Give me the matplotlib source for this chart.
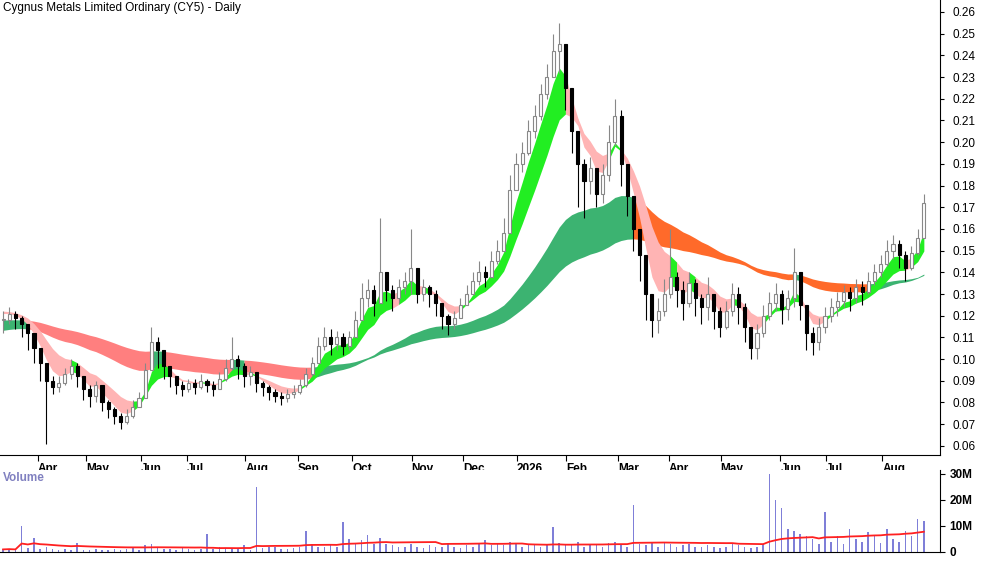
import numpy as np
import matplotlib
matplotlib.use("Agg")
import matplotlib.pyplot as plt

close = [0.118,0.121,0.119,0.116,0.112,0.105,0.098,0.090,0.087,0.089,0.093,0.097,0.092,0.086,0.083,0.088,0.080,0.077,0.074,0.071,
0.074,0.078,0.082,0.095,0.108,0.104,0.097,0.092,0.088,0.086,0.089,0.087,0.090,0.088,0.086,0.091,0.096,0.100,0.097,0.092,
0.094,0.089,0.087,0.085,0.083,0.082,0.084,0.085,0.088,0.093,0.098,0.106,0.110,0.107,0.110,0.106,0.110,0.118,0.128,0.132,
0.126,0.140,0.132,0.128,0.133,0.136,0.142,0.130,0.133,0.130,0.126,0.120,0.116,0.119,0.125,0.130,0.136,0.140,0.138,0.145,
0.150,0.158,0.178,0.190,0.195,0.205,0.212,0.222,0.230,0.242,0.245,0.225,0.205,0.190,0.182,0.188,0.176,0.185,0.200,0.212,
0.190,0.175,0.160,0.148,0.130,0.118,0.122,0.130,0.138,0.132,0.126,0.135,0.128,0.124,0.130,0.122,0.115,0.122,0.130,0.124,
0.115,0.105,0.112,0.120,0.126,0.130,0.123,0.128,0.140,0.125,0.112,0.108,0.115,0.120,0.124,0.127,0.131,0.128,0.133,0.131,
0.136,0.140,0.144,0.150,0.153,0.148,0.142,0.149,0.156,0.172]
high = [0.122,0.124,0.122,0.120,0.116,0.112,0.104,0.095,0.092,0.092,0.096,0.100,0.098,0.092,0.088,0.090,0.088,0.081,0.078,0.075,
0.077,0.081,0.085,0.098,0.115,0.110,0.104,0.097,0.092,0.090,0.091,0.091,0.093,0.091,0.090,0.094,0.100,0.110,0.102,0.098,
0.097,0.094,0.090,0.088,0.086,0.085,0.086,0.088,0.091,0.096,0.101,0.110,0.115,0.114,0.113,0.112,0.113,0.122,0.135,0.137,
0.134,0.165,0.140,0.134,0.137,0.140,0.160,0.140,0.137,0.134,0.132,0.126,0.121,0.122,0.128,0.134,0.140,0.145,0.143,0.150,
0.155,0.165,0.185,0.195,0.200,0.210,0.217,0.227,0.236,0.250,0.255,0.240,0.222,0.200,0.192,0.193,0.186,0.190,0.208,0.220,
0.215,0.185,0.172,0.156,0.148,0.130,0.128,0.137,0.160,0.140,0.136,0.140,0.137,0.130,0.138,0.130,0.124,0.127,0.135,0.133,
0.126,0.112,0.116,0.125,0.131,0.135,0.132,0.132,0.151,0.140,0.122,0.115,0.119,0.124,0.128,0.131,0.134,0.133,0.137,0.136,
0.140,0.144,0.148,0.155,0.157,0.155,0.150,0.152,0.160,0.176]
low = [0.112,0.116,0.114,0.110,0.104,0.098,0.090,0.061,0.084,0.085,0.088,0.091,0.087,0.081,0.078,0.080,0.076,0.073,0.070,0.068,
0.070,0.073,0.078,0.082,0.095,0.096,0.091,0.087,0.084,0.083,0.085,0.084,0.086,0.085,0.083,0.086,0.090,0.095,0.091,0.087,
0.088,0.085,0.083,0.081,0.080,0.079,0.080,0.082,0.084,0.087,0.092,0.098,0.104,0.102,0.104,0.102,0.104,0.110,0.118,0.124,
0.120,0.126,0.127,0.122,0.126,0.130,0.130,0.126,0.127,0.124,0.120,0.114,0.111,0.114,0.119,0.125,0.130,0.134,0.133,0.138,
0.144,0.150,0.158,0.178,0.186,0.194,0.202,0.210,0.220,0.230,0.232,0.215,0.195,0.170,0.165,0.176,0.170,0.172,0.182,0.198,
0.180,0.166,0.150,0.136,0.118,0.110,0.112,0.120,0.128,0.124,0.118,0.124,0.120,0.116,0.118,0.114,0.110,0.114,0.120,0.116,
0.108,0.100,0.100,0.110,0.118,0.122,0.116,0.118,0.124,0.118,0.104,0.102,0.104,0.112,0.117,0.120,0.124,0.122,0.126,0.125,
0.130,0.134,0.138,0.143,0.146,0.142,0.136,0.141,0.148,0.160]
volume = [1.0,1.2,0.8,10.0,1.5,5.5,1.0,2.0,1.2,0.8,1.0,0.7,3.5,0.8,0.9,1.0,0.8,0.7,1.2,0.8,
1.0,1.5,0.9,2.5,3.0,2.0,1.2,1.0,0.8,1.5,1.0,0.9,1.2,7.0,1.0,2.0,1.5,1.2,1.0,2.5,
0.8,25.0,1.5,2.0,1.8,1.0,1.2,1.5,2.0,8.0,3.0,2.0,1.8,2.5,2.0,11.5,5.0,3.0,4.5,6.5,
3.0,5.5,3.0,2.5,2.0,1.8,3.0,2.0,1.5,2.5,2.0,1.8,3.5,2.0,1.5,2.5,2.0,3.0,4.5,2.5,
3.0,2.5,4.0,3.5,2.0,3.0,2.5,2.0,2.8,9.5,3.5,2.5,3.0,4.0,2.0,3.0,2.5,2.0,3.5,4.0,
2.5,2.0,18.0,3.0,2.5,3.5,2.0,4.0,3.0,2.0,2.5,3.0,2.0,1.8,2.5,2.0,1.5,2.0,3.0,2.5,
2.0,1.5,2.0,3.0,30.0,20.0,17.0,9.0,8.0,7.0,6.0,5.0,3.0,15.5,4.0,6.0,3.0,9.0,5.0,4.0,
7.5,6.0,3.5,9.0,5.0,4.0,8.0,6.0,12.5,12.0]
month_labels = ["Apr","May","Jun","Jul","Aug","Sep","Oct","Nov","Dec","2026","Feb","Mar","Apr","May","Jun","Jul","Aug"]
month_pos = [5.6,13.4,22.3,29.8,39.2,47.7,56.5,66.1,74.5,83.1,91.1,99.5,107.7,116.1,125.8,133.1,142.3]

c = np.array(close); h = np.array(high); l = np.array(low)
o = np.r_[c[0], c[:-1]]
x = np.arange(len(c))

def ema(a, n, seed):
    k = 2/(n+1); out = np.empty_like(a); prev = seed
    for i in range(len(a)):
        prev = a[i]*k + prev*(1-k); out[i] = prev
    return out

short = np.array([ema(c, n, 0.123) for n in (4, 5, 6, 7, 8, 10)])
long_ = np.array([ema(c, n, s) for n, s in ((36, 0.113), (42, 0.114), (48, 0.115), (54, 0.116), (60, 0.117), (66, 0.118))])

fig = plt.figure(figsize=(10, 5.62), dpi=100)
ax = fig.add_axes([0, 1-455/562, 0.94, 455/562])
av = fig.add_axes([0, 10/562, 0.94, 82/562])

def ribbon(ax, grp, up_col, dn_col, dn_col2=None, split=None):
    top = grp.max(0); bot = grp.min(0)
    m = grp.mean(0)
    up = np.r_[m[1] >= m[0], np.diff(m) >= 0]
    cols = []
    for i in range(len(top)):
        if up[i]:
            cols.append(up_col)
        else:
            cols.append(dn_col2 if (dn_col2 and i >= split) else dn_col)
    start = 0
    for i in range(1, len(top)+1):
        if i == len(top) or cols[i] != cols[start]:
            end = min(i, len(top)-1)
            ax.fill_between(x[start:end+1], bot[start:end+1], top[start:end+1], color=cols[start], lw=0)
            start = i

ribbon(ax, long_, '#3cb371', '#ff7f7f', '#ff6a2a', 55)
ribbon(ax, short, '#22ee22', '#ffb4b4')

upm = c >= o
ax.vlines(x, l, h, color=np.where(upm, '#888888', '#000000'), lw=0.8, zorder=3)
bh = np.abs(c-o); bh = np.maximum(bh, 0.0006)
ax.bar(x[upm], bh[upm], bottom=np.minimum(c, o)[upm], width=0.5, color='white', edgecolor='#888888', lw=0.8, zorder=4)
ax.bar(x[~upm], bh[~upm], bottom=np.minimum(c, o)[~upm], width=0.5, color='black', edgecolor='black', lw=0.8, zorder=4)

xmax = 940/6.2
ax.set_xlim(-0.5, xmax); ax.set_ylim(0.0558, 0.2655)
ax.yaxis.tick_right()
ax.set_yticks(np.arange(0.06, 0.261, 0.01))
ax.set_yticklabels([f"{v:.2f}" for v in np.arange(0.06, 0.261, 0.01)], fontsize=8.5, fontfamily='Liberation Sans')
ax.tick_params(axis='y', direction='out', length=3, pad=6)
ax.set_xticks(month_pos)
ax.set_xticklabels(month_labels, fontsize=8.5, fontweight='bold', ha='left', fontfamily='Liberation Sans')
ax.tick_params(axis='x', direction='out', length=4, pad=2)
for s in ('top', 'left'): ax.spines[s].set_visible(False)
ax.text(0.003, 0.995, "Cygnus Metals Limited Ordinary (CY5) - Daily", transform=ax.transAxes, va='top', ha='left', fontsize=8.5, fontfamily='Liberation Sans')

av.bar(x, volume, width=0.25, color='#7f7fd8')
vma = np.array([np.mean(volume[max(0, i-29):i+1]) for i in range(len(volume))])
av.plot(x, vma, color='#ff2020', lw=1.3)
av.set_xlim(-0.5, xmax); av.set_ylim(0, 31.5)
av.yaxis.tick_right()
av.set_yticks([0, 10, 20, 30]); av.set_yticklabels(["0", "10M", "20M", "30M"], fontsize=8.5, fontweight='bold', fontfamily='Liberation Sans')
av.set_xticks([])
for s in ('top', 'left'): av.spines[s].set_visible(False)
av.text(0.003, 0.97, "Volume", transform=av.transAxes, va='top', fontsize=8.5, color='#8080c0', fontweight='bold', fontfamily='Liberation Sans')
fig.savefig("out.png", dpi=100)
